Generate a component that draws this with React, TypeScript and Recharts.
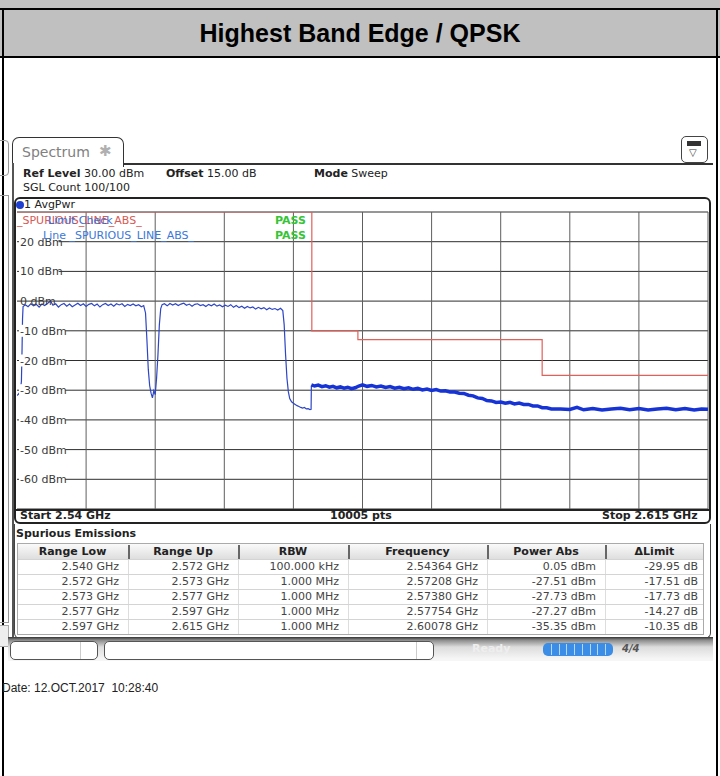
import React from "react";
import { LineChart, Line, XAxis, YAxis, CartesianGrid } from "recharts";

// grid of the analyser screen: 7.5 MHz / 10 dB per division
const gridFreqs = [2540, 2547.5, 2555, 2562.5, 2570, 2577.5, 2585, 2592.5, 2600, 2607.5, 2615];
const gridLevels = [30, 20, 10, 0, -10, -20, -30, -40, -50, -60, -70];
const levelTicks = [20, 10, 0, -10, -20, -30, -40, -50, -60];

// limit line _SPURIOUS_LINE_ABS_ (MHz, dBm)
const limitFreqs = [2540, 2572, 2577, 2597, 2615];
const limitLevels = [30, -10, -13, -25, -25];

// trace, range 1 (100 kHz RBW) [MHz, dBm]
const bandTrace: [number, number][] = [
  [2540.0, -31.8], [2540.2, -31.2], [2540.35, -30.4], [2540.48, -27], [2540.55, -16], [2540.6, -6],
  [2540.66, -1.8], [2540.9, -1.2], [2541.2, -1.9], [2541.5, -0.9], [2541.8, -1.6], [2542.1, -1.1],
  [2542.4, -2.0], [2542.7, -1.0], [2543.0, -1.5], [2543.3, -0.8], [2543.64, 0.05], [2543.9, -1.4],
  [2544.2, -0.9], [2544.5, -2.0], [2544.8, -1.2], [2545.1, -0.8], [2545.4, -1.7], [2545.7, -1.0],
  [2546.0, -1.9], [2546.3, -1.3], [2546.6, -0.7], [2546.9, -1.5], [2547.2, -0.9], [2547.5, -1.8],
  [2547.8, -1.1], [2548.1, -0.8], [2548.4, -1.6], [2548.7, -1.0], [2549.0, -2.0], [2549.3, -1.2],
  [2549.6, -0.8], [2549.9, -1.5], [2550.2, -1.0], [2550.5, -1.7], [2550.8, -0.9], [2551.1, -1.3],
  [2551.4, -0.9], [2551.7, -1.8], [2552.0, -1.1], [2552.3, -1.5], [2552.6, -1.0], [2552.9, -1.6],
  [2553.2, -1.2], [2553.5, -1.9], [2553.75, -1.5], [2553.95, -4], [2554.1, -13], [2554.25, -23],
  [2554.4, -28.5], [2554.55, -31], [2554.7, -32.6], [2554.85, -30.2], [2555.0, -31.5], [2555.15, -26],
  [2555.3, -18], [2555.45, -8], [2555.6, -2.5], [2555.75, -1.2], [2556.0, -0.9], [2556.3, -1.6],
  [2556.6, -0.8], [2556.9, -1.3], [2557.2, -0.9], [2557.5, -1.5], [2557.8, -1.0], [2558.1, -0.7],
  [2558.4, -1.4], [2558.7, -1.0], [2559.0, -1.7], [2559.3, -1.1], [2559.6, -0.9], [2559.9, -1.5],
  [2560.2, -1.2], [2560.5, -1.8], [2560.8, -1.1], [2561.1, -1.6], [2561.4, -1.0], [2561.7, -1.7],
  [2562.0, -1.3], [2562.3, -1.9], [2562.6, -1.4], [2562.9, -1.8], [2563.2, -1.2], [2563.5, -2.1],
  [2563.8, -1.5], [2564.1, -2.2], [2564.4, -1.7], [2564.7, -2.4], [2565.0, -1.8], [2565.3, -2.3],
  [2565.6, -2.0], [2565.9, -2.7], [2566.2, -2.1], [2566.5, -2.6], [2566.8, -2.2], [2567.1, -2.9],
  [2567.4, -2.3], [2567.7, -2.8], [2568.0, -2.5], [2568.3, -3.0], [2568.6, -2.4], [2568.85, -3.2],
  [2569.0, -8], [2569.15, -18], [2569.3, -26], [2569.45, -30.5], [2569.6, -32.8], [2569.8, -33.9],
  [2570.0, -34.4], [2570.2, -34.8], [2570.4, -35.2], [2570.6, -35.5], [2570.8, -35.8], [2571.0, -36.0],
  [2571.2, -35.8], [2571.4, -36.3], [2571.6, -36.2], [2571.8, -36.5], [2571.92, -36.4], [2571.95, -28.4],
];

// trace, ranges 2..5 (1 MHz RBW) [MHz, dBm]
const spurTrace: [number, number][] = [
  [2571.95, -28.2], [2572.3, -28.6], [2572.7, -28.3], [2573.1, -28.8], [2573.5, -28.5], [2573.9, -29.0],
  [2574.3, -28.7], [2574.7, -29.2], [2575.1, -28.9], [2575.5, -29.3], [2575.9, -29.0], [2576.3, -29.5],
  [2576.7, -29.2], [2577.1, -28.6], [2577.5, -28.2], [2578.0, -28.7], [2578.5, -28.4], [2579.0, -28.9],
  [2579.5, -28.6], [2580.0, -29.1], [2580.5, -28.8], [2581.0, -29.3], [2581.5, -29.0], [2582.0, -29.5],
  [2582.5, -29.2], [2583.0, -29.7], [2583.5, -29.4], [2584.0, -29.9], [2584.5, -29.6], [2585.0, -30.1],
  [2585.5, -29.8], [2586.0, -30.3], [2586.5, -30.2], [2587.0, -30.6], [2587.5, -30.6], [2588.0, -31.0],
  [2588.5, -31.1], [2589.0, -31.7], [2589.5, -31.9], [2590.0, -32.6], [2590.5, -32.8], [2591.0, -33.5],
  [2591.5, -33.6], [2592.0, -34.1], [2592.5, -34.0], [2593.0, -34.4], [2593.5, -34.1], [2594.0, -34.6],
  [2594.5, -34.3], [2595.0, -34.8], [2595.5, -34.8], [2596.0, -35.3], [2596.5, -35.3], [2597.0, -35.9],
  [2597.5, -35.9], [2598.0, -36.3], [2599.0, -36.3], [2600.0, -36.5], [2600.78, -35.8], [2601.5, -36.6],
  [2602.5, -36.2], [2603.5, -36.7], [2604.5, -36.3], [2605.5, -36.1], [2606.5, -36.6], [2607.5, -36.2],
  [2608.5, -36.7], [2609.5, -36.3], [2610.5, -36.1], [2611.5, -36.6], [2612.5, -36.2], [2613.5, -36.7],
  [2614.3, -36.3], [2615.0, -36.4],
];

// Spurious Emissions table
const tableHeads = ["Range Low", "Range Up", "RBW", "Frequency", "Power Abs", "\u0394Limit"];
const rangeLow = ["2.540 GHz", "2.572 GHz", "2.573 GHz", "2.577 GHz", "2.597 GHz"];
const rangeUp = ["2.572 GHz", "2.573 GHz", "2.577 GHz", "2.597 GHz", "2.615 GHz"];
const rbw = ["100.000 kHz", "1.000 MHz", "1.000 MHz", "1.000 MHz", "1.000 MHz"];
const peakFreq = ["2.54364 GHz", "2.57208 GHz", "2.57380 GHz", "2.57754 GHz", "2.60078 GHz"];
const powerAbs = ["0.05 dBm", "-27.51 dBm", "-27.73 dBm", "-27.27 dBm", "-35.35 dBm"];
const deltaLimit = ["-29.95 dB", "-17.51 dB", "-17.73 dB", "-14.27 dB", "-10.35 dB"];

const colEdges = [17, 128, 238, 348, 487, 605, 704];

const limitData = limitFreqs.map((f, i) => ({ f, v: limitLevels[i] }));
const bandData = bandTrace.map(([f, v]) => ({ f, v }));
const spurData = spurTrace.map(([f, v]) => ({ f, v }));
const tableRows = rangeLow.map((_, i) => [rangeLow[i], rangeUp[i], rbw[i], peakFreq[i], powerAbs[i], deltaLimit[i]]);

const ui = '"DejaVu Sans", Verdana, sans-serif';
const arial = '"Liberation Sans", Arial, sans-serif';

function LevelTick(props: any) {
  const { y, payload } = props;
  const label = `${payload.value} dBm`;
  return (
    <g>
      {payload.value !== 0 && <rect x={3} y={y - 6} width={label.length * 6.6} height={12} fill="#fff" />}
      <text x={4} y={y} dy={4} fontSize={11} fontFamily={ui} fill="#3a3a3a" textAnchor="start">
        {label}
      </text>
    </g>
  );
}

function T({ x, y, children, style }: { x: number; y: number; children: React.ReactNode; style?: React.CSSProperties }) {
  return (
    <div
      style={{
        position: "absolute",
        left: x,
        top: y - 7,
        height: 14,
        lineHeight: "14px",
        fontFamily: ui,
        fontSize: 11,
        color: "#222",
        whiteSpace: "nowrap",
        ...style,
      }}
    >
      {children}
    </div>
  );
}

function Box(style: React.CSSProperties) {
  return <div style={{ position: "absolute", boxSizing: "border-box", ...style }} />;
}

export default function App() {
  return (
    <div style={{ position: "absolute", left: 0, top: 0, width: 720, height: 776, background: "#fff", overflow: "hidden" }}>
      {/* report header */}
      <Box left={0} top={0} width={720} height={58} background="#c0c0c0" />
      <Box left={0} top={8} width={720} height={2} background="#000" />
      <Box left={0} top={56} width={720} height={2} background="#000" />
      <Box left={2} top={8} width={2} height={768} background="#000" />
      <Box left={716} top={8} width={2} height={768} background="#000" />
      <div
        style={{
          position: "absolute",
          left: 4,
          width: 712,
          top: 18,
          textAlign: "center",
          fontFamily: arial,
          fontWeight: 700,
          fontSize: 25,
          lineHeight: "30px",
          color: "#000",
        }}
      >
        Highest Band Edge / QPSK
      </div>

      {/* neighbour window edges */}
      <Box left={-4} top={140} width={13} height={36} border="1px solid #999" borderRadius={4} />
      <Box left={-4} top={195} width={13} height={428} border="1px solid #999" />
      <Box left={-4} top={625} width={13} height={22} border="1px solid #aaa" background="#eee" />

      {/* screen */}
      <Box left={12} top={137} width={112} height={30} border="1.5px solid #333" borderBottom="none" borderRadius="7px 7px 0 0" background="#fff" />
      <Box left={123} top={163} width={590} height={1.5} background="#333" />
      <Box left={12} top={163} width={1.5} height={478} background="#555" />
      <T x={22} y={152} style={{ fontSize: 14, color: "#808080" }}>
        Spectrum
      </T>
      <T x={99} y={151} style={{ fontSize: 15, color: "#b0b0b0" }}>
        {"\u2731"}
      </T>
      <Box left={681} top={136} width={27} height={27} border="1px solid #444" borderRadius={5} background="#fff" />
      <Box left={687} top={141} width={14} height={5} background="#333" />
      <T x={689} y={153} style={{ fontSize: 10, color: "#333" }}>
        {"\u25BD"}
      </T>

      <T x={23} y={174}>
        <b>Ref Level</b> 30.00 dBm
      </T>
      <T x={166} y={174}>
        <b>Offset</b> 15.00 dB
      </T>
      <T x={314} y={174}>
        <b>Mode</b> Sweep
      </T>
      <T x={23} y={188}>
        SGL Count 100/100
      </T>

      {/* diagram frame */}
      <Box left={14} top={197} width={697} height={327} border="2px solid #222" borderRadius={6} />
      <Box left={16} top={201} width={8} height={8} background="#1f3fd0" borderRadius={4} />
      <T x={24} y={205}>
        1 AvgPwr
      </T>

      <div style={{ position: "absolute", left: 16, top: 211 }}>
        <LineChart width={693} height={299} margin={{ top: 1, right: 1, bottom: 1, left: 1 }}>
          <CartesianGrid vertical={false} horizontalValues={gridLevels} stroke="#2e2e2e" />
          <CartesianGrid horizontal={false} verticalValues={gridFreqs} stroke="#5e5e5e" />
          <XAxis type="number" dataKey="f" domain={[2540, 2615]} hide allowDataOverflow />
          <YAxis
            type="number"
            domain={[-70, 30]}
            ticks={levelTicks}
            interval={0}
            mirror
            axisLine={false}
            tickLine={false}
            tick={(p: any) => <LevelTick {...p} />}
            allowDataOverflow
          />
          <Line data={limitData} dataKey="v" type="stepAfter" stroke="#e0605a" strokeWidth={1.2} dot={false} isAnimationActive={false} />
          <Line data={bandData} dataKey="v" type="linear" stroke="#2d46c4" strokeWidth={1.2} dot={false} isAnimationActive={false} />
          <Line data={spurData} dataKey="v" type="linear" stroke="#1633d6" strokeWidth={3.5} dot={false} isAnimationActive={false} />
        </LineChart>
      </div>

      {/* limit check legend */}
      <T x={17} y={221} style={{ color: "#d85a55" }}>
        _SPURIOUS_LINE_ABS_
      </T>
      <T x={48} y={221} style={{ color: "#3b6fd6" }}>
        Limit Check
      </T>
      <T x={275} y={221} style={{ color: "#36c436", fontWeight: 700 }}>
        PASS
      </T>
      <T x={43} y={236} style={{ color: "#3b78d8" }}>
        Line _SPURIOUS_LINE_ABS_
      </T>
      <T x={275} y={236} style={{ color: "#36c436", fontWeight: 700 }}>
        PASS
      </T>

      <Box left={16} top={509} width={693} height={1.5} background="#222" />
      <T x={20} y={516} style={{ fontWeight: 700 }}>
        Start 2.54 GHz
      </T>
      <T x={330} y={516} style={{ fontWeight: 700 }}>
        10005 pts
      </T>
      <T x={602} y={516} style={{ fontWeight: 700 }}>
        Stop 2.615 GHz
      </T>

      {/* spurious emissions table */}
      <Box left={14} top={524} width={697} height={115} border="1.5px solid #444" borderTop="none" borderRadius="0 0 6px 6px" />
      <T x={16} y={534} style={{ fontWeight: 700 }}>
        Spurious Emissions
      </T>
      <Box left={17} top={543} width={687} height={92} border="1px solid #aaa" background="#fff" />
      <Box left={18} top={544} width={685} height={15} background="linear-gradient(#fafafa, #dedede)" />
      {tableHeads.map((h, i) => (
        <div
          key={h}
          style={{
            position: "absolute",
            left: colEdges[i],
            width: colEdges[i + 1] - colEdges[i],
            top: 544,
            height: 15,
            lineHeight: "15px",
            textAlign: "center",
            fontFamily: ui,
            fontSize: 11,
            fontWeight: 700,
            color: "#222",
          }}
        >
          {h}
        </div>
      ))}
      {colEdges.slice(1, 6).map((x) => (
        <Box key={"s" + x} left={x} top={545} width={1.5} height={14} background="#666" />
      ))}
      {colEdges.slice(1, 6).map((x) => (
        <Box key={"c" + x} left={x} top={559} width={1} height={75} background="#ddd" />
      ))}
      {tableRows.map((row, r) => (
        <React.Fragment key={r}>
          <Box left={18} top={559 + r * 15} width={685} height={1} background="#d4d4d4" />
          {row.map((cell, c) => (
            <div
              key={c}
              style={{
                position: "absolute",
                left: colEdges[c],
                width: colEdges[c + 1] - colEdges[c] - (c === 5 ? 6 : 9),
                top: 559 + r * 15,
                height: 15,
                lineHeight: "15px",
                textAlign: "right",
                fontFamily: ui,
                fontSize: 11,
                color: "#444",
                whiteSpace: "nowrap",
              }}
            >
              {cell}
            </div>
          ))}
        </React.Fragment>
      ))}

      {/* status bar */}
      <Box left={8} top={637} width={705} height={24} background="linear-gradient(#333 0px, #8a8a8a 3px, #dcdcdc 10px, #f6f6f6 22px)" />
      <Box left={10} top={641} width={88} height={19} border="1px solid #555" borderRadius={5} background="#fff" />
      <Box left={80} top={642} width={1} height={17} background="#ccc" />
      <Box left={104} top={641} width={330} height={19} border="1px solid #555" borderRadius={5} background="#fff" />
      <Box left={416} top={642} width={1} height={17} background="#ccc" />
      <T x={472} y={649} style={{ color: "#eeeeee", fontWeight: 700 }}>
        Ready
      </T>
      <Box left={543} top={643} width={70} height={13} background="#3b8de6" borderRadius={5} />
      {[551, 559, 566, 574, 582, 590, 597, 605].map((x) => (
        <Box key={"b" + x} left={x} top={644} width={1} height={11} background="#b8d6f6" />
      ))}
      <T x={622} y={649} style={{ color: "#555", fontWeight: 700, fontStyle: "italic", fontSize: 10 }}>
        4/4
      </T>

      <div style={{ position: "absolute", left: 2, top: 681, fontFamily: arial, fontSize: 12, lineHeight: "14px", color: "#222" }}>
        Date: 12.OCT.2017&nbsp;&nbsp;10:28:40
      </div>
    </div>
  );
}
